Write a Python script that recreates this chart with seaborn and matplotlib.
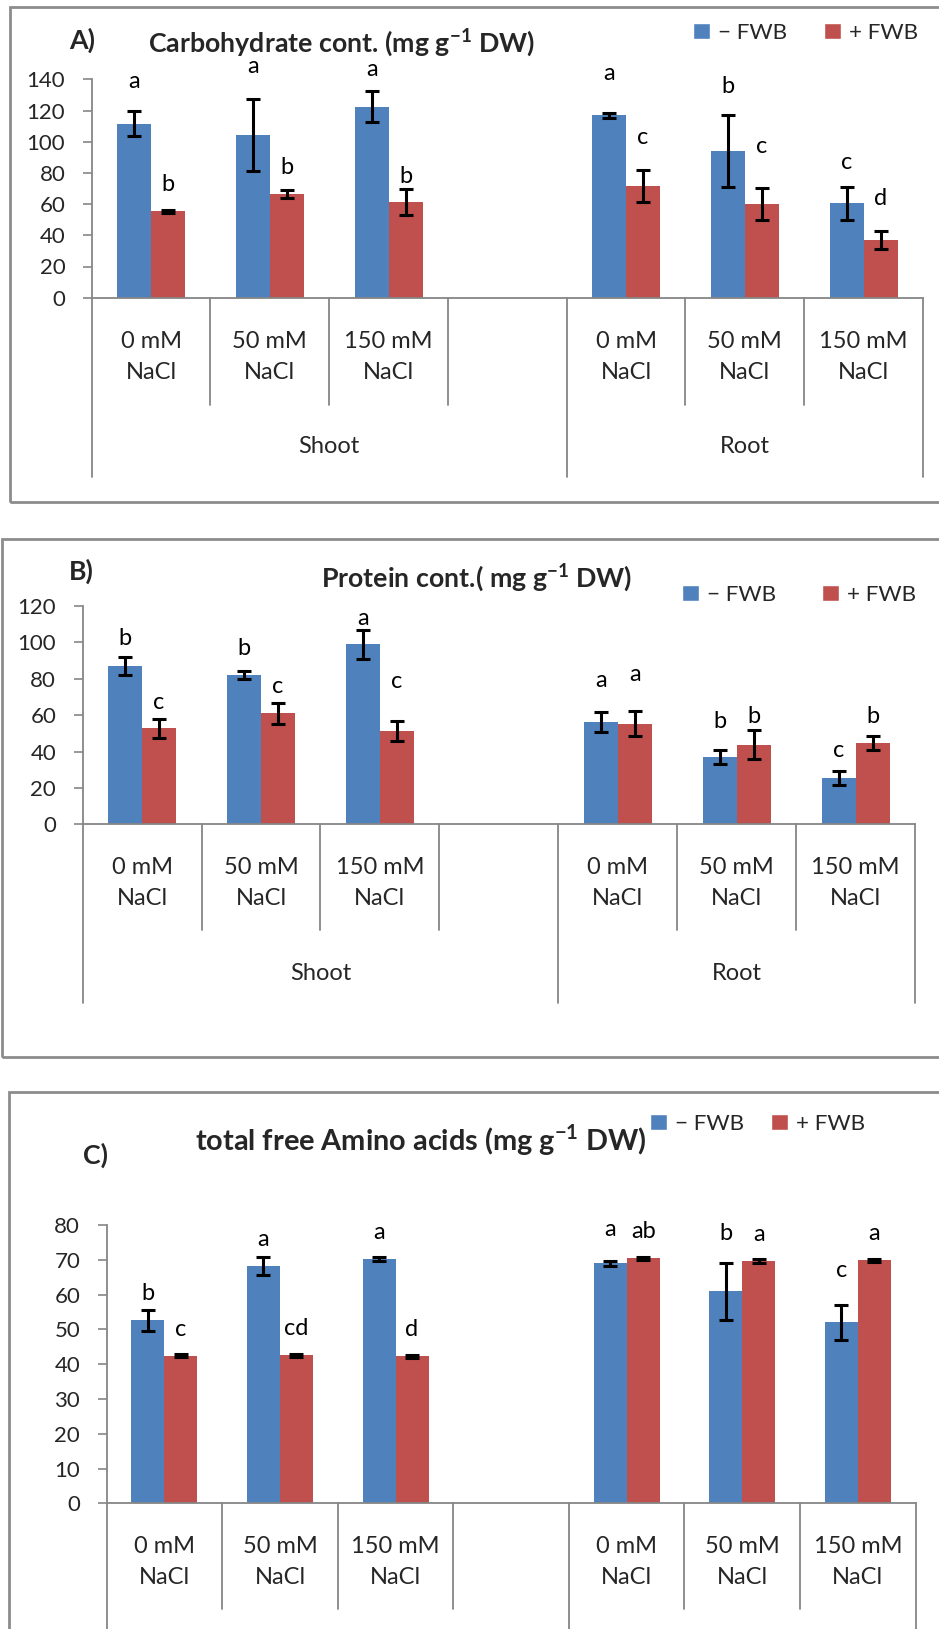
import matplotlib
matplotlib.use("Agg")
import matplotlib.pyplot as plt
import pandas as pd
import seaborn as sns
from matplotlib.patches import Rectangle, Patch

# ---- data ----
treatments = ["0 mM\nNaCl", "50 mM\nNaCl", "150 mM\nNaCl"]
organs = ["Shoot", "Root"]
hue_levels = ["\u2212 FWB", "+ FWB"]
slot_order = ["S0", "S50", "S150", "gap", "R0", "R50", "R150"]
data_slots = ["S0", "S50", "S150", "R0", "R50", "R150"]

carb_minus = [111.6, 104.5, 122.5, 116.9, 93.8, 60.5]
carb_minus_err = [8.0, 23.0, 9.8, 1.8, 23.0, 10.4]
carb_plus = [55.4, 66.3, 61.3, 71.6, 60.1, 36.8]
carb_plus_err = [0.8, 2.5, 8.2, 10.0, 10.5, 5.7]
carb_minus_let = ["a", "a", "a", "a", "b", "c"]
carb_plus_let = ["b", "b", "b", "c", "c", "d"]
carb_minus_let_y = [138.5, 148, 146, 144, 135.7, 86.8]
carb_plus_let_y = [72.7, 83.4, 78, 103, 96.8, 63.7]

prot_minus = [87.2, 82.1, 98.9, 56.3, 36.8, 25.5]
prot_minus_err = [4.9, 2.3, 8.0, 5.5, 3.8, 3.7]
prot_plus = [52.8, 61.0, 51.5, 55.3, 43.8, 44.9]
prot_plus_err = [5.3, 5.9, 5.5, 6.9, 7.9, 3.8]
prot_minus_let = ["b", "b", "a", "a", "b", "c"]
prot_plus_let = ["c", "c", "c", "a", "b", "b"]
prot_minus_let_y = [102.2, 96.7, 113.2, 79.3, 56.3, 40.3]
prot_plus_let_y = [66.9, 75.7, 78.6, 82.4, 59, 59.4]

amino_minus = [52.6, 68.2, 70.3, 69.0, 61.0, 52.0]
amino_minus_err = [3.0, 2.6, 0.6, 0.7, 8.2, 5.0]
amino_plus = [42.4, 42.5, 42.2, 70.4, 69.6, 69.8]
amino_plus_err = [0.4, 0.4, 0.3, 0.4, 0.6, 0.5]
amino_minus_let = ["b", "a", "a", "a", "b", "c"]
amino_plus_let = ["c", "cd", "d", "ab", "a", "a"]
amino_minus_let_y = [60.3, 75.7, 77.9, 78.8, 77.6, 67]
amino_plus_let_y = [49.9, 50.2, 49.9, 78.1, 77.3, 77.5]

# ---- style ----
sns.set_style("white")
plt.rcParams["font.family"] = ["Lato", "DejaVu Sans"]
plt.rcParams["mathtext.fontset"] = "custom"
plt.rcParams["mathtext.rm"] = "Lato"
plt.rcParams["mathtext.bf"] = "Lato:bold"

BLUE = "#4F81BD"
RED = "#C0504D"
GRAY = "#868686"
FS = 16
FS_LAB = 17

W, H = 939, 1629
fig = plt.figure(figsize=(W / 100, H / 100), dpi=100)


def fx(px):
    return px / W


def fy(py):
    return 1 - py / H


def panel(box, minus, minus_err, plus, plus_err, mlet, plet, mly, ply,
          ymax, ystep, inner_px, outer_px, legend_xy, colspace,
          show_organs=True):
    left, top, right, bottom = box
    ax = fig.add_axes([fx(left), fy(bottom), fx(right - left), (bottom - top) / H])
    df = pd.DataFrame({
        "slot": data_slots * 2,
        "trt": [hue_levels[0]] * 6 + [hue_levels[1]] * 6,
        "val": minus + plus,
    })
    sns.barplot(data=df, x="slot", y="val", hue="trt", order=slot_order,
                hue_order=hue_levels, palette=[BLUE, RED], width=2 / 3.5,
                errorbar=None, saturation=1, linewidth=0, legend=False, ax=ax)

    for cont, err, lets, ly in zip(ax.containers, [minus_err, plus_err],
                                   [mlet, plet], [mly, ply]):
        xs = [b.get_x() + b.get_width() / 2 for b in cont]
        hs = [b.get_height() for b in cont]
        ax.errorbar(xs, hs, yerr=err, fmt="none", ecolor="black",
                    elinewidth=2.2, capsize=5, capthick=2.2, zorder=5)
        for x, t, y in zip(xs, lets, ly):
            ax.text(x, y, t, ha="center", va="center", fontsize=FS_LAB,
                    color="black")

    ax.set_ylim(0, ymax)
    ax.set_xlim(-0.5, len(slot_order) - 0.5)
    ax.set_yticks(range(0, ymax + 1, ystep))
    ax.set_xlabel("")
    ax.set_ylabel("")
    ax.tick_params(axis="x", length=0, labelbottom=False)
    ax.tick_params(axis="y", direction="out", length=6.5, width=1.2,
                   color=GRAY, labelsize=FS, pad=12.5, left=True)
    for s in ["top", "right"]:
        ax.spines[s].set_visible(False)
    for s in ["left", "bottom"]:
        ax.spines[s].set_color(GRAY)
        ax.spines[s].set_linewidth(1.3)

    # hierarchical category axis
    ax_h = bottom - top
    tr = ax.get_xaxis_transform()
    outer = [-0.5, 3.5, len(slot_order) - 0.5]
    for i in range(len(slot_order) + 1):
        xb = i - 0.5
        depth = outer_px if xb in outer else inner_px
        ax.plot([xb, xb], [0, -depth / ax_h], transform=tr, color=GRAY,
                lw=1.3, clip_on=False)
    slot_labels = treatments + [""] + treatments
    for i, lab in enumerate(slot_labels):
        ax.text(i, -59 / ax_h, lab, transform=tr, ha="center", va="center",
                fontsize=FS_LAB, linespacing=1.58)
    if show_organs:
        for org, (a, b) in zip(organs, [(-0.5, 3.5), (3.5, len(slot_order) - 0.5)]):
            ax.text((a + b) / 2, -149 / ax_h, org, transform=tr, ha="center",
                    va="center", fontsize=FS_LAB)

    handles = [Patch(facecolor=BLUE), Patch(facecolor=RED)]
    ax.legend(handles, hue_levels, loc="center left",
              bbox_to_anchor=(fx(legend_xy[0]), fy(legend_xy[1])),
              bbox_transform=fig.transFigure, ncol=2, frameon=False,
              fontsize=16.2, handlelength=0.75, handleheight=0.75,
              handletextpad=0.35, columnspacing=colspace, borderpad=0,
              borderaxespad=0)
    return ax


# panel frames
fig.add_artist(Rectangle((fx(10), fy(502)), 1.0, (502 - 7) / H,
                         transform=fig.transFigure, fill=False,
                         edgecolor="#8c8c8c", lw=2))
fig.add_artist(Rectangle((fx(2), fy(1057)), 1.0, (1057 - 539) / H,
                         transform=fig.transFigure, fill=False,
                         edgecolor="#8c8c8c", lw=2))
fig.add_artist(Rectangle((fx(9), -0.1), 1.0, fy(1092) + 0.1,
                         transform=fig.transFigure, fill=False,
                         edgecolor="#8c8c8c", lw=2))

panel((91.7, 79.3, 923, 297.7), carb_minus, carb_minus_err, carb_plus,
      carb_plus_err, carb_minus_let, carb_plus_let, carb_minus_let_y,
      carb_plus_let_y, 140, 20, 107, 179, (693, 33), 1.65)
panel((82.6, 606, 915, 824.3), prot_minus, prot_minus_err, prot_plus,
      prot_plus_err, prot_minus_let, prot_plus_let, prot_minus_let_y,
      prot_plus_let_y, 120, 20, 106, 179, (682, 595), 2.05)
panel((106.6, 1225, 915.6, 1503.3), amino_minus, amino_minus_err, amino_plus,
      amino_plus_err, amino_minus_let, amino_plus_let, amino_minus_let_y,
      amino_plus_let_y, 80, 10, 106, 200, (650, 1124), 1.2,
      show_organs=False)

# titles and panel letters
fig.text(fx(342), fy(43), "Carbohydrate cont. (mg g$^{\\mathbf{-1}}$ DW)",
         ha="center", va="center", fontsize=19.3, fontweight="bold")
fig.text(fx(69), fy(40), "A)", ha="left", va="center", fontsize=19.3,
         fontweight="bold")
fig.text(fx(477), fy(578), "Protein cont.( mg g$^{\\mathbf{-1}}$ DW)",
         ha="center", va="center", fontsize=19.3, fontweight="bold")
fig.text(fx(69), fy(571), "B)", ha="left", va="center", fontsize=19.3,
         fontweight="bold")
fig.text(fx(421), fy(1140), "total free Amino acids (mg g$^{\\mathbf{-1}}$ DW)",
         ha="center", va="center", fontsize=20.8, fontweight="bold")
fig.text(fx(83), fy(1155), "C)", ha="left", va="center", fontsize=19.3,
         fontweight="bold")

fig.savefig("out.png", dpi=100)
